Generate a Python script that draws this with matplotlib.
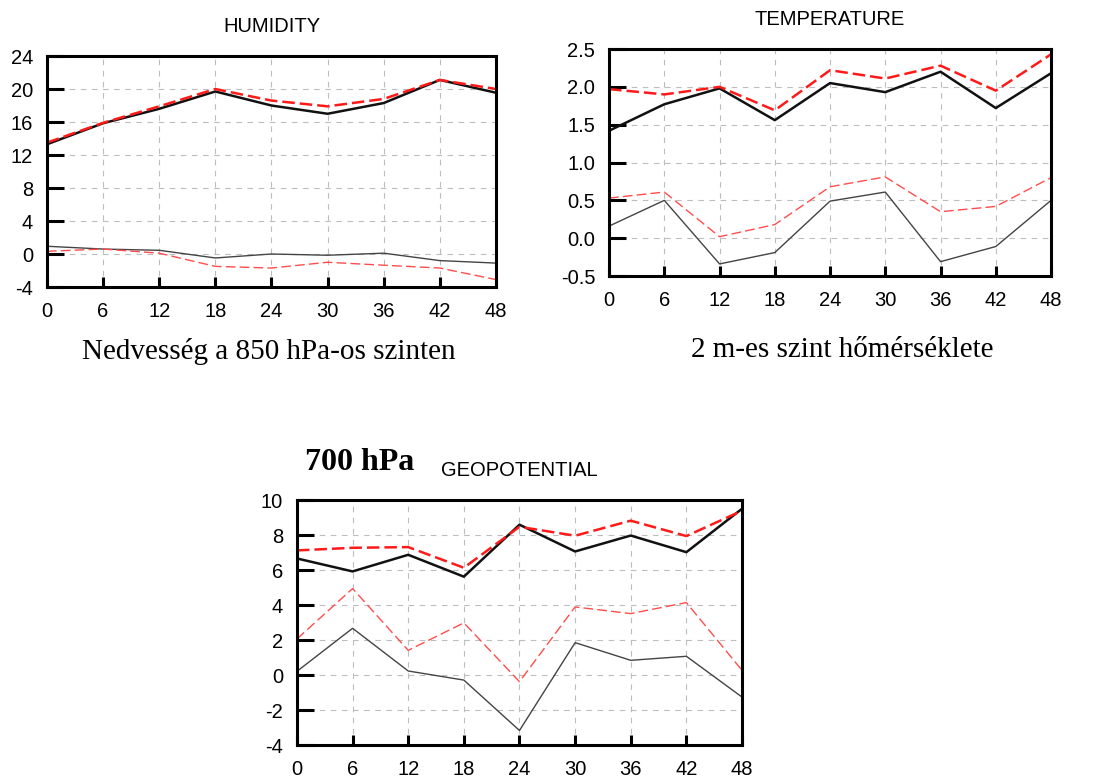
import matplotlib
matplotlib.use("Agg")
import matplotlib.pyplot as plt
import numpy as np

plt.rcParams['font.family'] = ['Liberation Sans', 'DejaVu Sans']
plt.rcParams['axes.unicode_minus'] = False

hours = [0, 6, 12, 18, 24, 30, 36, 42, 48]

# humidity 850 hPa
hum_rmse_a = [13.3, 15.85, 17.6, 19.7, 18.0, 17.0, 18.3, 21.1, 19.55]
hum_rmse_b = [13.5, 15.9, 17.9, 20.0, 18.6, 17.9, 18.8, 21.1, 20.0]
hum_bias_a = [0.94, 0.6, 0.45, -0.48, 0.0, -0.15, 0.1, -0.8, -1.1]
hum_bias_b = [0.33, 0.6, 0.1, -1.5, -1.7, -1.0, -1.36, -1.7, -3.1]

# 2 m temperature
tmp_rmse_a = [1.42, 1.77, 1.98, 1.56, 2.05, 1.93, 2.2, 1.72, 2.18]
tmp_rmse_b = [1.97, 1.9, 2.0, 1.69, 2.22, 2.11, 2.28, 1.95, 2.43]
tmp_bias_a = [0.16, 0.5, -0.34, -0.19, 0.49, 0.61, -0.31, -0.11, 0.5]
tmp_bias_b = [0.53, 0.61, 0.02, 0.18, 0.68, 0.81, 0.35, 0.42, 0.8]

# geopotential 700 hPa
geo_rmse_a = [6.66, 5.92, 6.87, 5.62, 8.59, 7.06, 7.97, 7.02, 9.5]
geo_rmse_b = [7.12, 7.27, 7.31, 6.13, 8.47, 7.96, 8.82, 7.94, 9.39]
geo_bias_a = [0.21, 2.67, 0.23, -0.29, -3.17, 1.85, 0.84, 1.07, -1.26]
geo_bias_b = [2.06, 4.94, 1.41, 2.98, -0.38, 3.89, 3.51, 4.14, 0.27]

fig = plt.figure(figsize=(10.97, 7.78), dpi=100)


def panel(rect, title, ra, rb, ba, bb, yticks, ylabels):
    ax = fig.add_axes(rect)
    ax.plot(hours, ra, color='#111111', lw=1.8)
    ax.plot(hours, rb, color='#ff1a1a', lw=1.8, ls=(0, (5, 2)))
    ax.plot(hours, ba, color='#444444', lw=1.0)
    ax.plot(hours, bb, color='#ff4d4d', lw=1.0, ls=(0, (7, 3)))
    ax.set_xlim(0, 48)
    ax.set_ylim(yticks[0], yticks[-1])
    ax.set_xticks(hours)
    ax.set_yticks(yticks)
    ax.set_yticklabels(ylabels)
    ax.grid(True, color='#bdbdbd', lw=0.8, ls=(0, (5, 5)))
    for s in ax.spines.values():
        s.set_linewidth(2.2)
    ax.tick_params(axis='y', direction='in', length=12, width=2.2, labelsize=14.5, pad=10)
    ax.tick_params(axis='x', direction='in', length=7, width=2.2, labelsize=14.5, pad=11)
    ax.set_title(title, fontsize=14.5, pad=17)
    return ax


panel([0.0428, 0.6311, 0.4093, 0.2969], 'HUMIDITY',
      hum_rmse_a, hum_rmse_b, hum_bias_a, hum_bias_b,
      list(range(-4, 25, 4)), [str(v) for v in range(-4, 25, 4)])

t_ticks = [-0.5, 0.0, 0.5, 1.0, 1.5, 2.0, 2.5]
panel([0.5552, 0.6452, 0.4029, 0.2918], 'TEMPERATURE',
      tmp_rmse_a, tmp_rmse_b, tmp_bias_a, tmp_bias_b,
      t_ticks, ['%.1f' % v for v in t_ticks])

panel([0.2707, 0.0424, 0.4057, 0.3149], 'GEOPOTENTIAL',
      geo_rmse_a, geo_rmse_b, geo_bias_a, geo_bias_b,
      list(range(-4, 11, 2)), [str(v) for v in range(-4, 11, 2)])

fig.text(269 / 1097, 1 - 351 / 778, 'Nedvesség a 850 hPa-os szinten',
         family='Liberation Serif', fontsize=21, ha='center', va='center')
fig.text(842 / 1097, 1 - 350 / 778, '2 m-es szint hőmérséklete',
         family='Liberation Serif', fontsize=21, ha='center', va='center')
fig.text(305 / 1097, 1 - 462 / 778, '700 hPa',
         family='Liberation Serif', fontsize=23, fontweight='bold', ha='left', va='center')

fig.savefig('out.png', dpi=100)
